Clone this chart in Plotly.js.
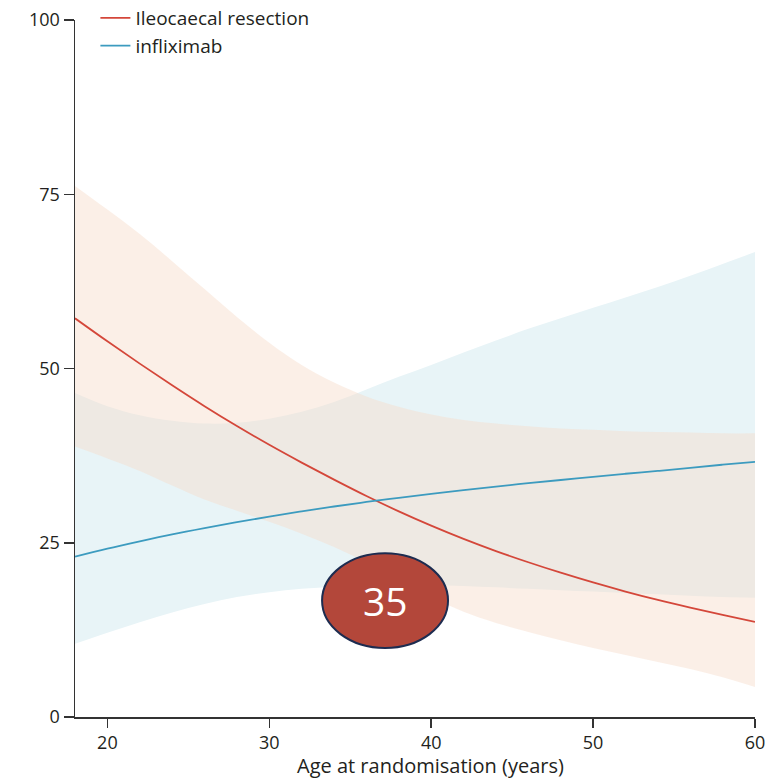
<!DOCTYPE html>
<html>
<head>
<meta charset="utf-8">
<script src="https://cdn.plot.ly/plotly-3.0.1.min.js"></script>
<style>html,body{margin:0;padding:0;background:#fff;}#chart{width:772px;height:783px;}</style>
</head>
<body>
<div id="chart"></div>
<script>
// Age at randomisation (years)
var ages = [18,20,22,24,26,28,30,32,34,36,38,40,42,44,46,48,50,52,54,56,58,60];

// Ileocaecal resection: estimate and 95% CI (%)
var resection      = [57.2,53.9,50.7,47.6,44.6,41.75,39.05,36.5,34.05,31.7,29.5,27.45,25.55,23.8,22.2,20.7,19.3,18.0,16.8,15.7,14.65,13.65];
var resectionUpper = [76.2,72.8,69.3,65.4,61.4,57.4,53.7,50.5,48.0,46.0,44.5,43.4,42.6,42.1,41.7,41.4,41.2,41.0,40.9,40.8,40.7,40.7];
var resectionLower = [38.8,37.1,35.3,33.2,31.2,29.6,28.0,26.3,24.4,22.2,19.7,17.2,15.1,13.5,12.2,11.0,9.9,8.9,7.9,6.9,5.7,4.3];

// Infliximab: estimate and 95% CI (%)
var infliximab      = [23.0,24.15,25.2,26.2,27.1,27.95,28.75,29.5,30.2,30.85,31.45,32.0,32.55,33.05,33.55,34.0,34.45,34.9,35.3,35.75,36.2,36.6];
var infliximabUpper = [46.5,44.6,43.3,42.5,42.1,42.2,42.8,43.8,45.2,47.0,48.8,50.5,52.3,54.0,55.7,57.2,58.7,60.2,61.7,63.3,65.0,66.7];
var infliximabLower = [10.5,12.1,13.6,15.0,16.2,17.2,17.9,18.4,18.7,18.9,19.0,18.9,18.8,18.6,18.4,18.2,18.0,17.8,17.6,17.4,17.2,17.1];

var seriesNames = ["Ileocaecal resection", "infliximab"];
var xTicks = [20,30,40,50,60];
var yTicks = [0,25,50,75,100];
var xTitle = "Age at randomisation (years)";
var badgeLabel = "35";

var RED = '#d4473a', BLUE = '#3c9bbf';
// blue band opaque, orange band semi-transparent on top -> greyish overlap
var BLUE_FILL = 'rgb(232,244,247)';
var ORANGE_FILL = 'rgba(246,219,202,0.45)';
var FONT = 'Open Sans, Noto Sans, sans-serif';

function band(lower, upper, color){
  return [
    {x: ages, y: lower, type:'scatter', mode:'lines', line:{width:0, shape:'spline', color:'rgba(0,0,0,0)'}, showlegend:false, hoverinfo:'skip'},
    {x: ages, y: upper, type:'scatter', mode:'lines', line:{width:0, shape:'spline', color:'rgba(0,0,0,0)'}, fill:'tonexty', fillcolor:color, showlegend:false, hoverinfo:'skip'}
  ];
}

var data = [].concat(
  band(infliximabLower, infliximabUpper, BLUE_FILL),
  band(resectionLower, resectionUpper, ORANGE_FILL),
  [
    {x: ages, y: resection, type:'scatter', mode:'lines', name: seriesNames[0], line:{color:RED, width:1.8, shape:'spline'}},
    {x: ages, y: infliximab, type:'scatter', mode:'lines', name: seriesNames[1], line:{color:BLUE, width:1.8, shape:'spline'}}
  ]
);

var layout = {
  width: 772, height: 783,
  margin: {l:75, r:17, t:20, b:66, pad:0, autoexpand:false},
  paper_bgcolor:'#ffffff', plot_bgcolor:'#ffffff',
  font: {family: FONT, size: 18, color:'#231f20'},
  showlegend: true,
  legend: {x: 0.03, y: 1.03, xanchor:'left', yanchor:'top', traceorder:'normal', bgcolor:'rgba(0,0,0,0)',
           font:{size:19, color:'#231f20'}, tracegroupgap:0, itemwidth:30},
  xaxis: {
    range:[18,60], tickvals:xTicks, ticks:'outside', ticklen:9, tickwidth:1.5, tickcolor:'#333',
    showline:true, linecolor:'#333', linewidth:1.5, showgrid:false, zeroline:false,
    tickfont:{size:18}
  },
  yaxis: {
    range:[0,100], tickvals:yTicks, ticks:'outside', ticklen:10, tickwidth:1.5, tickcolor:'#333',
    showline:true, linecolor:'#333', linewidth:1.5, showgrid:false, zeroline:false,
    tickfont:{size:18}
  },
  shapes: [
    {type:'circle', xref:'x', yref:'y', x0:33.26, x1:41.04, y0:9.9, y1:23.5,
     fillcolor:'#b3473a', line:{color:'#1d2c50', width:2}, layer:'above'}
  ],
  annotations: [
    {x:37.15, y:16.7, xref:'x', yref:'y', text:badgeLabel, showarrow:false,
     font:{family:FONT, size:39, color:'#ffffff'}},
    {x:0.5235, y:-0.0925, xref:'paper', yref:'paper', xanchor:'center', yanchor:'bottom', text:xTitle, showarrow:false,
     font:{family:FONT, size:20, color:'#231f20'}}
  ]
};

Plotly.newPlot('chart', data, layout, {displayModeBar:false, staticPlot:true});
</script>
</body>
</html>
